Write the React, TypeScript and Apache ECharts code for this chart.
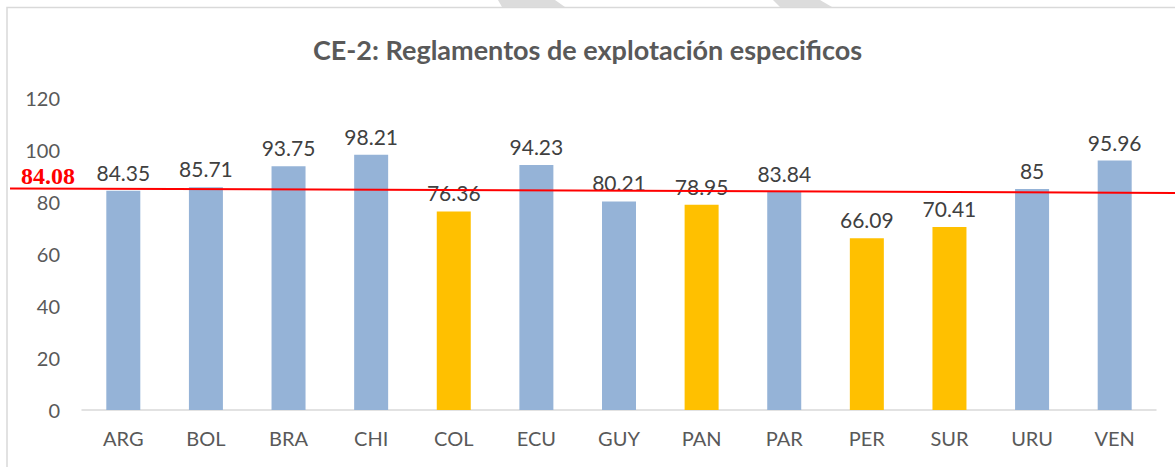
import React, { useEffect, useRef } from "react";
import * as echarts from "echarts";

const categories = ["ARG", "BOL", "BRA", "CHI", "COL", "ECU", "GUY", "PAN", "PAR", "PER", "SUR", "URU", "VEN"];
const values = [84.35, 85.71, 93.75, 98.21, 76.36, 94.23, 80.21, 78.95, 83.84, 66.09, 70.41, 85, 95.96];
const highlighted = ["COL", "PAN", "PER", "SUR"];
const average = 84.08;
const yTicks = { min: 0, max: 120, interval: 20 };
const titleText = "CE-2: Reglamentos de explotación especificos";

const BLUE = "#95B3D7";
const GOLD = "#FFC000";

export default function App() {
  const ref = useRef<HTMLDivElement>(null);
  useEffect(() => {
    document.body.style.margin = "0";
    const chart = echarts.init(ref.current!, null, { renderer: "svg" });
    const option: any = {
      animation: false,
      backgroundColor: "#ffffff",
      title: {
        text: titleText,
        left: "center",
        top: 31,
        textStyle: { fontFamily: "Lato", fontWeight: "bold", fontSize: 27, color: "#595959" },
      },
      grid: { left: 82, right: 19, top: 98, bottom: 57 },
      xAxis: {
        type: "category",
        data: categories,
        axisLine: { lineStyle: { color: "#D9D9D9", width: 1.5 } },
        axisTick: { show: false },
        axisLabel: { fontFamily: "Lato", fontSize: 20, color: "#595959", margin: 18 },
      },
      yAxis: {
        type: "value",
        min: yTicks.min,
        max: yTicks.max,
        interval: yTicks.interval,
        splitLine: { show: false },
        axisLine: { show: false },
        axisTick: { show: false },
        axisLabel: { fontFamily: "Lato", fontSize: 20, color: "#595959", margin: 22 },
      },
      series: [
        {
          type: "bar",
          data: values.map((v, i) => ({
            value: v,
            itemStyle: { color: highlighted.includes(categories[i]) ? GOLD : BLUE },
          })),
          barWidth: 34,
          label: {
            show: true,
            position: "top",
            distance: 8,
            fontFamily: "Lato",
            fontSize: 21,
            color: "#404040",
          },
        },
      ],
    };
    chart.setOption(option);
    const y = chart.convertToPixel({ yAxisIndex: 0 }, average) as number;
    chart.setOption({
      graphic: [
        {
          type: "polygon",
          silent: true,
          shape: { points: [[498, 0], [555, 0], [565, 7], [502, 7]] },
          style: { fill: "#DCDCDC" },
        },
        {
          type: "polygon",
          silent: true,
          shape: { points: [[773, 0], [820, 0], [832, 7], [780, 7]] },
          style: { fill: "#DCDCDC" },
        },
        {
          type: "polyline",
          silent: true,
          shape: { points: [[7, 480], [7, 7.5], [1180, 7.5]] },
          style: { stroke: "#D9D9D9", lineWidth: 1.5, fill: null },
        },
        {
          type: "line",
          silent: true,
          shape: { x1: 10, y1: y - 3, x2: 1175, y2: y + 1.5 },
          style: { stroke: "#FF0000", lineWidth: 2 },
          z: 100,
        },
        {
          type: "text",
          silent: true,
          x: 21,
          y: y - 3,
          style: {
            text: String(average),
            fontFamily: "Liberation Serif",
            fontWeight: "bold",
            fontSize: 24,
            fill: "#FF0000",
            align: "left",
            verticalAlign: "bottom",
          },
          z: 100,
        },
      ],
    });
    return () => chart.dispose();
  }, []);
  return <div ref={ref} style={{ width: 1175, height: 467 }} />;
}
